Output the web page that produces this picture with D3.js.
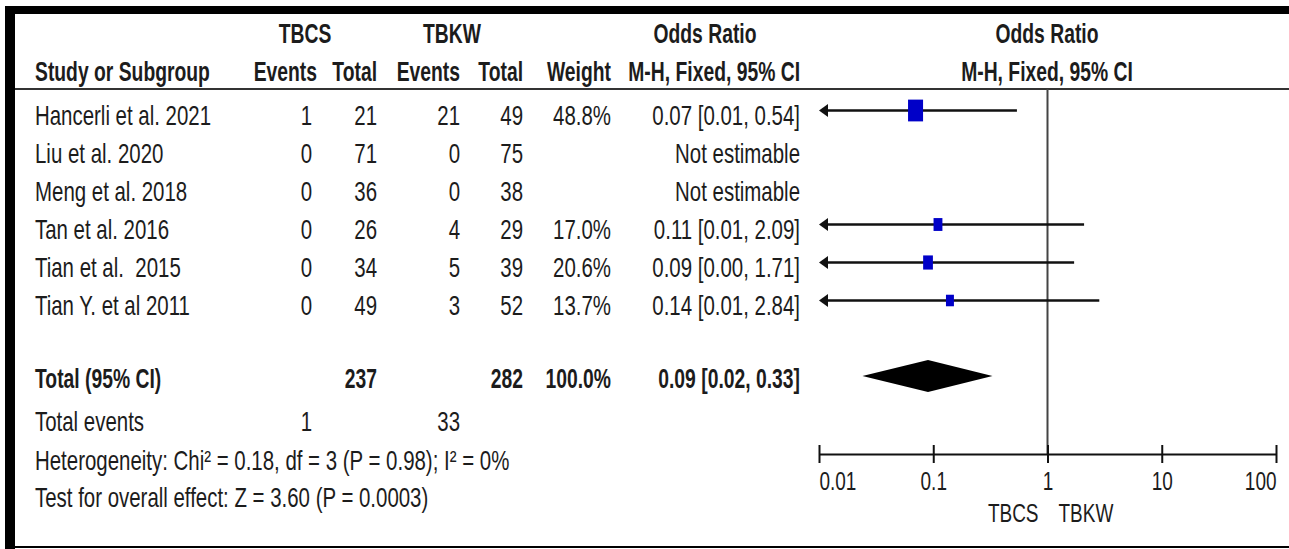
<!DOCTYPE html>
<html>
<head>
<meta charset="utf-8">
<script src="https://cdn.jsdelivr.net/npm/d3@7"></script>
<style>
  html, body { margin: 0; padding: 0; background: #fff; }
  svg text { font-family: "Liberation Sans", Arial, sans-serif; fill: #1c1c1c; white-space: pre; }
</style>
</head>
<body>
<svg id="chart"></svg>
<script>
// study rows
const studies = ['Hancerli et al. 2021', 'Liu et al. 2020', 'Meng et al. 2018', 'Tan et al. 2016', 'Tian et al.  2015', 'Tian Y. et al 2011'];
const tbcsEvents = [1, 0, 0, 0, 0, 0];
const tbcsTotal = [21, 71, 36, 26, 34, 49];
const tbkwEvents = [21, 0, 0, 4, 5, 3];
const tbkwTotal = [49, 75, 38, 29, 39, 52];
const weights = [48.8, null, null, 17.0, 20.6, 13.7];
const oddsRatio = [0.07, null, null, 0.11, 0.09, 0.14];
const ciLow = [0.01, null, null, 0.01, 0.00, 0.01];
const ciHigh = [0.54, null, null, 2.09, 1.71, 2.84];

// pooled result
const totalTbcs = 237;
const totalTbkw = 282;
const totalWeight = 100.0;
const totalOR = 0.09;
const totalLow = 0.024;
const totalHigh = 0.33;
const totalEventsTbcs = 1;
const totalEventsTbkw = 33;
const heterogeneity = 'Heterogeneity: Chi\u00b2 = 0.18, df = 3 (P = 0.98); I\u00b2 = 0%';
const overallEffect = 'Test for overall effect: Z = 3.60 (P = 0.0003)';

const axisTicks = [0.01, 0.1, 1, 10, 100];
const favours = ['TBCS', 'TBKW'];

const width = 1289, height = 549;
const sx = 0.73;     // the source font is condensed
const sxBold = 0.69;
const fs = 28;

const svg = d3.select('#chart')
  .attr('width', width)
  .attr('height', height);

svg.append('rect').attr('width', width).attr('height', height).attr('fill', '#fff');

function txt(x, y, s, anchor, bold, size) {
  return svg.append('text')
    .attr('transform', 'translate(' + x + ',' + y + ') scale(' + (bold ? sxBold : sx) + ',1)')
    .attr('text-anchor', anchor || 'end')
    .style('font-size', (size || fs) + 'px')
    .style('font-weight', bold ? 'bold' : 'normal')
    .text(s);
}

// frame
svg.append('rect').attr('x', 5).attr('y', 6).attr('width', width - 5).attr('height', 8).attr('fill', '#000');
svg.append('rect').attr('x', 5).attr('y', 6).attr('width', 10).attr('height', height - 6).attr('fill', '#000');
svg.append('rect').attr('x', 5).attr('y', 546).attr('width', width - 5).attr('height', 2).attr('fill', '#000');

// column positions (right edges)
const col = {evA: 312, totA: 377, evB: 460, totB: 523, w: 611, or: 800};

// headers
txt(305, 43, 'TBCS', 'middle', true);
txt(452, 43, 'TBKW', 'middle', true);
txt(705, 43, 'Odds Ratio', 'middle', true);
txt(1047, 43, 'Odds Ratio', 'middle', true);
txt(35, 81, 'Study or Subgroup', 'start', true);
txt(317, 81, 'Events', 'end', true);
txt(col.totA, 81, 'Total', 'end', true);
txt(col.evB, 81, 'Events', 'end', true);
txt(col.totB, 81, 'Total', 'end', true);
txt(col.w, 81, 'Weight', 'end', true);
txt(col.or, 81, 'M-H, Fixed, 95% CI', 'end', true);
txt(1047, 81, 'M-H, Fixed, 95% CI', 'middle', true);

svg.append('line')
  .attr('x1', 15).attr('x2', width)
  .attr('y1', 89).attr('y2', 89)
  .attr('stroke', '#333').attr('stroke-width', 2);

const x = d3.scaleLog().domain([0.01, 100]).range([819, 1276]);
const rowY = d3.scaleLinear().domain([0, 1]).range([125, 163]);
const fmt = d => d.toFixed(2);

// vertical line of no effect
svg.append('line')
  .attr('x1', x(1)).attr('x2', x(1))
  .attr('y1', 89).attr('y2', 454)
  .attr('stroke', '#444').attr('stroke-width', 2);

studies.forEach((s, i) => {
  const y = rowY(i);
  txt(35, y, s, 'start');
  txt(col.evA, y, tbcsEvents[i]);
  txt(col.totA, y, tbcsTotal[i]);
  txt(col.evB, y, tbkwEvents[i]);
  txt(col.totB, y, tbkwTotal[i]);
  if (oddsRatio[i] == null) {
    txt(col.or, y, 'Not estimable');
    return;
  }
  txt(col.w, y, weights[i].toFixed(1) + '%');
  txt(col.or, y, fmt(oddsRatio[i]) + ' [' + fmt(ciLow[i]) + ', ' + fmt(ciHigh[i]) + ']');

  // confidence interval
  const cy = y - 14.5;
  const arrow = ciLow[i] <= 0.01;
  const xl = arrow ? x(0.01) + 8 : x(ciLow[i]);
  svg.append('line')
    .attr('x1', xl).attr('x2', x(Math.min(ciHigh[i], 100)))
    .attr('y1', cy).attr('y2', cy)
    .attr('stroke', '#111').attr('stroke-width', 2.5);
  if (arrow) {
    const x0 = x(0.01);
    svg.append('path')
      .attr('d', 'M' + x0 + ',' + cy + 'L' + (x0 + 9) + ',' + (cy - 6.5) + 'L' + (x0 + 9) + ',' + (cy + 6.5) + 'Z')
      .attr('fill', '#111');
  }
  const w = 2.15 * Math.sqrt(weights[i]);
  const h = w * 1.45;
  svg.append('rect')
    .attr('x', x(oddsRatio[i]) - w / 2).attr('y', cy - h / 2)
    .attr('width', w).attr('height', h)
    .attr('fill', '#0000c8');
});

// totals
txt(35, 388, 'Total (95% CI)', 'start', true);
txt(col.totA, 388, totalTbcs, 'end', true);
txt(col.totB, 388, totalTbkw, 'end', true);
txt(col.w, 388, totalWeight.toFixed(1) + '%', 'end', true);
txt(col.or, 388, fmt(totalOR) + ' [' + fmt(totalLow) + ', ' + fmt(totalHigh) + ']', 'end', true);

const dy = 376;
svg.append('path')
  .attr('d', 'M' + x(totalLow) + ',' + dy + 'L' + x(totalOR) + ',' + (dy - 16) +
    'L' + x(totalHigh) + ',' + dy + 'L' + x(totalOR) + ',' + (dy + 16) + 'Z')
  .attr('fill', '#000');

txt(35, 431, 'Total events', 'start');
txt(col.evA, 431, totalEventsTbcs);
txt(col.evB, 431, totalEventsTbkw);
txt(35, 470, heterogeneity, 'start');
txt(35, 507, overallEffect, 'start');

// axis
const axis = d3.axisBottom(x)
  .tickValues(axisTicks)
  .tickFormat(d => d3.format('~g')(d))
  .tickSizeOuter(0);

const ax = svg.append('g')
  .attr('transform', 'translate(0,454)')
  .call(axis);

ax.select('.domain').attr('stroke', '#111').attr('stroke-width', 2);
ax.selectAll('.tick line')
  .attr('y1', -9).attr('y2', 9)
  .attr('stroke', '#111').attr('stroke-width', 2);
ax.selectAll('.tick text')
  .attr('y', 36).attr('dy', null)
  .attr('transform', 'scale(' + sx + ',1)')
  .attr('fill', '#1c1c1c')
  .style('font-size', '26px')
  .attr('font-family', null)
  .attr('text-anchor', (d, i) => i === 0 ? 'start' : (i === axisTicks.length - 1 ? 'end' : 'middle'));

txt(x(1) - 9, 522, favours[0], 'end', false, 26);
txt(x(1) + 11, 522, favours[1], 'start', false, 26);
</script>
</body>
</html>
